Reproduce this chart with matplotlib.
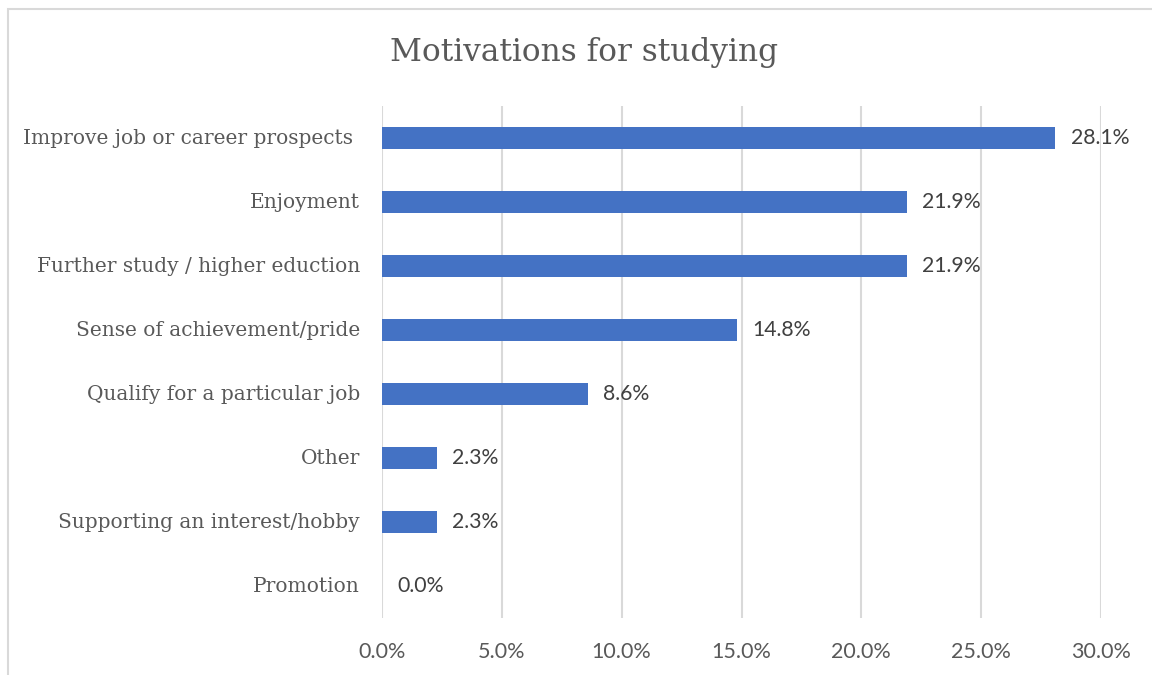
import matplotlib.pyplot as plt
from matplotlib.patches import Rectangle
from matplotlib.ticker import FuncFormatter

categories = [
    "Improve job or career prospects ",
    "Enjoyment",
    "Further study / higher eduction",
    "Sense of achievement/pride",
    "Qualify for a particular job",
    "Other",
    "Supporting an interest/hobby",
    "Promotion",
]
values = [28.1, 21.9, 21.9, 14.8, 8.6, 2.3, 2.3, 0.0]
xticks = [0, 5, 10, 15, 20, 25, 30]

text_col = "#595959"
grid_col = "#d9d9d9"
bar_col = "#4472c4"
serif = ["DejaVu Serif"]
sans = ["Lato", "DejaVu Sans"]

fig = plt.figure(figsize=(11.52, 6.75), dpi=100)
fig.patches.append(Rectangle((8 / 1152, -0.1), 1.2, 0.1 + 1 - 9 / 675,
                             transform=fig.transFigure, fill=False,
                             edgecolor=grid_col, linewidth=1.5))
ax = fig.add_axes([382 / 1152, 57 / 675, 719 / 1152, 512 / 675])

pos = list(range(len(categories)))
ax.barh(pos, values, height=0.35, color=bar_col, zorder=3)
ax.set_ylim(len(categories) - 0.5, -0.5)
ax.set_xlim(0, 30)
ax.set_xticks(xticks)
ax.xaxis.set_major_formatter(FuncFormatter(lambda v, p: f"{v:.1f}%"))
ax.set_yticks(pos)
ax.set_yticklabels(categories, family=serif, fontsize=14.5, color=text_col,
                   va="center")
for lab in ax.get_xticklabels():
    lab.set_family(sans)
    lab.set_fontsize(15.5)
    lab.set_color(text_col)
ax.tick_params(axis="both", length=0)
ax.tick_params(axis="x", pad=17)
ax.tick_params(axis="y", pad=16)
ax.grid(axis="x", color=grid_col, linewidth=1.5, zorder=0)
for s in ax.spines.values():
    s.set_visible(False)

for p, v in zip(pos, values):
    ax.annotate(f"{v:.1f}%", (v, p), xytext=(11, 0), textcoords="offset points",
                va="center", ha="left", family=sans, fontsize=15.3, color="#404040")

fig.text(584 / 1152, 1 - 52 / 675, "Motivations for studying", ha="center",
         va="center", family=serif, fontsize=22.5, color=text_col)

fig.savefig("out.png", dpi=100)
